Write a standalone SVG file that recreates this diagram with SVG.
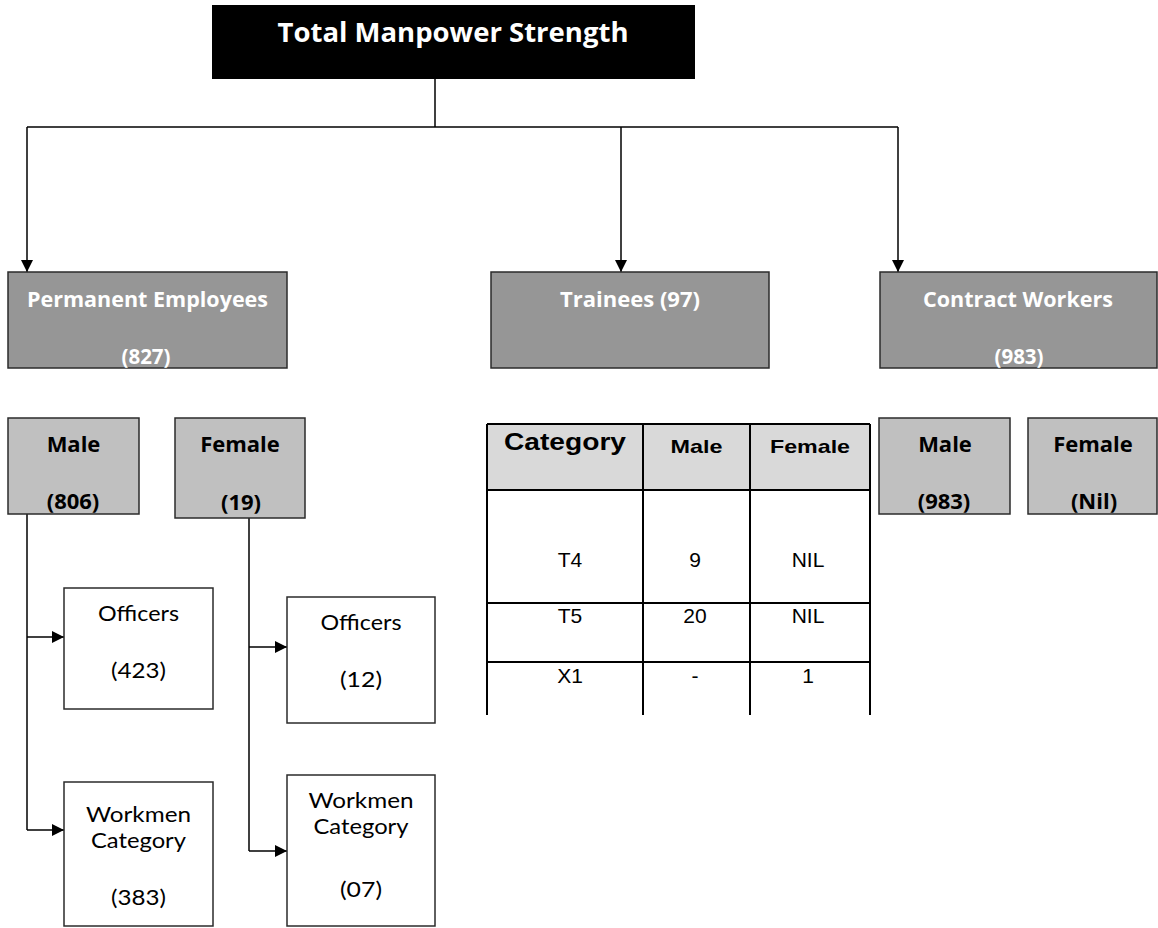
<svg xmlns="http://www.w3.org/2000/svg" width="1158" height="928" viewBox="0 0 1158 928">
<defs>
<style>
.bg{fill:#ffffff}
.top{fill:#000000}
.mid{fill:#969696;stroke:#2b2b2b;stroke-width:1.5}
.lt{fill:#c0c0c0;stroke:#2b2b2b;stroke-width:1.5}
.wh{fill:#ffffff;stroke:#2b2b2b;stroke-width:1.5}
.hd{fill:#d9d9d9}
.ln{fill:none;stroke:#000000;stroke-width:1.5}
.tl{fill:none;stroke:#000000;stroke-width:2}
.tw{font-family:"Open Sans","Noto Sans",sans-serif;font-weight:bold;fill:#ffffff;text-anchor:middle}
.tb{font-family:"Open Sans","Noto Sans",sans-serif;font-weight:bold;fill:#000000;text-anchor:middle;font-size:22px}
.tr{font-family:Lato,"Open Sans",sans-serif;fill:#000000;text-anchor:middle;font-size:21.5px}
.ah{font-family:"Liberation Sans",Arial,sans-serif;font-weight:bold;fill:#000000;text-anchor:middle}
.ar{font-family:"Liberation Sans",Arial,sans-serif;fill:#000000;text-anchor:middle;font-size:21px}
</style>
<marker id="arr" viewBox="0 0 10 10" refX="10" refY="5" markerWidth="13" markerHeight="12" markerUnits="userSpaceOnUse" orient="auto">
<path d="M0,0 L10,5 L0,10 z" fill="#000000"/>
</marker>
</defs>
<rect class="bg" x="0" y="0" width="1158" height="928"/>

<g id="connectors">
<path class="ln" d="M435,79 V127"/>
<path class="ln" d="M27,127 H898"/>
<path class="ln" d="M27,127 V272" marker-end="url(#arr)"/>
<path class="ln" d="M621,127 V272" marker-end="url(#arr)"/>
<path class="ln" d="M898,127 V272" marker-end="url(#arr)"/>
<path class="ln" d="M27,514 V830"/>
<path class="ln" d="M27,637 H64" marker-end="url(#arr)"/>
<path class="ln" d="M27,830 H64" marker-end="url(#arr)"/>
<path class="ln" d="M249,518 V851"/>
<path class="ln" d="M249,647 H287" marker-end="url(#arr)"/>
<path class="ln" d="M249,851 H287" marker-end="url(#arr)"/>
</g>

<g id="total">
<rect class="top" x="212" y="5" width="483" height="74"/>
<text class="tw" x="453" y="42" font-size="26" textLength="351" lengthAdjust="spacingAndGlyphs">Total Manpower Strength</text>
</g>

<g id="permanent">
<rect class="mid" x="8" y="272" width="279" height="96"/>
<text class="tw" x="147.5" y="307" font-size="20.5" textLength="241" lengthAdjust="spacingAndGlyphs">Permanent Employees</text>
<text class="tw" x="146" y="364" font-size="20.5">(827)</text>
</g>

<g id="trainees">
<rect class="mid" x="491" y="272" width="278" height="96"/>
<text class="tw" x="630" y="307" font-size="20.5" textLength="140" lengthAdjust="spacingAndGlyphs">Trainees (97)</text>
</g>

<g id="contract">
<rect class="mid" x="880" y="272" width="277" height="96"/>
<text class="tw" x="1018" y="307" font-size="20.5" textLength="190" lengthAdjust="spacingAndGlyphs">Contract Workers</text>
<text class="tw" x="1019" y="364" font-size="20.5">(983)</text>
</g>

<g id="perm-male">
<rect class="lt" x="8" y="418" width="131" height="96"/>
<text class="tb" x="73.5" y="452">Male</text>
<text class="tb" x="73" y="509">(806)</text>
</g>

<g id="perm-female">
<rect class="lt" x="175" y="418" width="130" height="100"/>
<text class="tb" x="240" y="452">Female</text>
<text class="tb" x="241" y="510">(19)</text>
</g>

<g id="contract-male">
<rect class="lt" x="879" y="418" width="131" height="96"/>
<text class="tb" x="945" y="452">Male</text>
<text class="tb" x="944" y="509">(983)</text>
</g>

<g id="contract-female">
<rect class="lt" x="1028" y="418" width="129" height="96"/>
<text class="tb" x="1093" y="452">Female</text>
<text class="tb" x="1094" y="509">(Nil)</text>
</g>

<g id="male-officers">
<rect class="wh" x="64" y="588" width="149" height="121"/>
<text class="tr" x="138.5" y="621" textLength="81" lengthAdjust="spacingAndGlyphs">Officers</text>
<text class="tr" x="138.5" y="678" textLength="55" lengthAdjust="spacingAndGlyphs">(423)</text>
</g>

<g id="male-workmen">
<rect class="wh" x="64" y="782" width="149" height="144"/>
<text class="tr" x="138.5" y="822" textLength="105" lengthAdjust="spacingAndGlyphs">Workmen</text>
<text class="tr" x="138.5" y="848" textLength="95" lengthAdjust="spacingAndGlyphs">Category</text>
<text class="tr" x="138.5" y="905" textLength="55" lengthAdjust="spacingAndGlyphs">(383)</text>
</g>

<g id="female-officers">
<rect class="wh" x="287" y="597" width="148" height="126"/>
<text class="tr" x="361" y="630" textLength="81" lengthAdjust="spacingAndGlyphs">Officers</text>
<text class="tr" x="361" y="687" textLength="42" lengthAdjust="spacingAndGlyphs">(12)</text>
</g>

<g id="female-workmen">
<rect class="wh" x="287" y="775" width="148" height="151"/>
<text class="tr" x="361" y="808" textLength="105" lengthAdjust="spacingAndGlyphs">Workmen</text>
<text class="tr" x="361" y="834" textLength="95" lengthAdjust="spacingAndGlyphs">Category</text>
<text class="tr" x="361" y="897" textLength="42" lengthAdjust="spacingAndGlyphs">(07)</text>
</g>

<g id="trainee-table">
<rect class="hd" x="487" y="424" width="383" height="66"/>
<path class="tl" d="M487,424 H870 M487,490 H870 M487,603 H870 M487,662 H870 M487,424 V715 M643,424 V715 M750,424 V715 M870,424 V715"/>
<text class="ah" x="565" y="450" font-size="23" textLength="122" lengthAdjust="spacingAndGlyphs">Category</text>
<text class="ah" x="696.5" y="453" font-size="19" textLength="52" lengthAdjust="spacingAndGlyphs">Male</text>
<text class="ah" x="810" y="453" font-size="19" textLength="80" lengthAdjust="spacingAndGlyphs">Female</text>
<text class="ar" x="570" y="567">T4</text>
<text class="ar" x="695" y="567">9</text>
<text class="ar" x="808" y="567">NIL</text>
<text class="ar" x="570" y="623">T5</text>
<text class="ar" x="695" y="623">20</text>
<text class="ar" x="808" y="623">NIL</text>
<text class="ar" x="570" y="683">X1</text>
<text class="ar" x="695" y="683">-</text>
<text class="ar" x="808" y="683">1</text>
</g>
</svg>
